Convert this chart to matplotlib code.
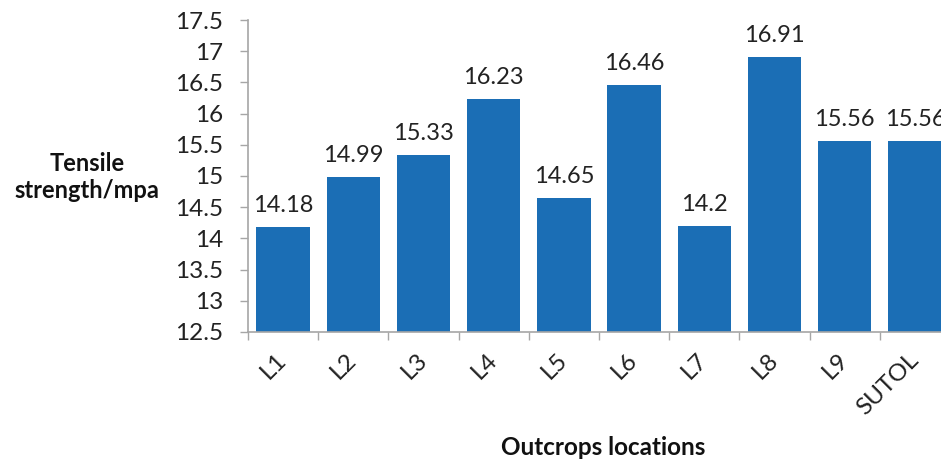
import matplotlib
matplotlib.use("Agg")
import matplotlib.pyplot as plt
import numpy as np

locations = ["L1", "L2", "L3", "L4", "L5", "L6", "L7", "L8", "L9", "SUTOL"]
tensile = [14.18, 14.99, 15.33, 16.23, 14.65, 16.46, 14.2, 16.91, 15.56, 15.56]
value_labels = ["14.18", "14.99", "15.33", "16.23", "14.65", "16.46", "14.2", "16.91", "15.56", "15.56"]
y_ticks = [12.5, 13, 13.5, 14, 14.5, 15, 15.5, 16, 16.5, 17, 17.5]
y_tick_labels = ["12.5", "13", "13.5", "14", "14.5", "15", "15.5", "16", "16.5", "17", "17.5"]

plt.rcParams["font.family"] = ["Lato", "DejaVu Sans"]
W, H = 941, 461
fig = plt.figure(figsize=(W / 100, H / 100), dpi=100)
left, right, top, bottom = 248, 950, 20, 332
ax = fig.add_axes([left / W, 1 - bottom / H, (right - left) / W, (bottom - top) / H])

bar_color = "#1b6eb5"
spine_color = "#a6a6a6"
text_color = "#222222"
x = np.arange(len(locations))
ax.bar(x, [v - 12.5 for v in tensile], bottom=12.5, width=0.76, color=bar_color, zorder=2)

for xi, v, lab in zip(x, tensile, value_labels):
    ax.annotate(lab, (xi, v), xytext=(0, 8), textcoords="offset points",
                ha="center", va="bottom", fontsize=17, color=text_color)

ax.set_xlim(-0.5, len(locations) - 0.5)
ax.set_ylim(12.5, 17.5)
ax.set_yticks(y_ticks)
ax.set_yticklabels(y_tick_labels, fontsize=17.5, color=text_color)
ax.set_xticks(x)
ax.set_xticklabels(locations, rotation=45, ha="right", va="center",
                   rotation_mode="anchor", fontsize=17.5, color=text_color)
ax.set_xticks(np.arange(len(locations) + 1) - 0.5, minor=True)
ax.tick_params(axis="x", which="major", length=0, pad=17.5)
ax.tick_params(axis="x", which="minor", length=5.5, color=spine_color, width=1)
ax.tick_params(axis="y", length=5.8, color=spine_color, width=1, pad=12)

for s in ["top", "right"]:
    ax.spines[s].set_visible(False)
for s in ["left", "bottom"]:
    ax.spines[s].set_color(spine_color)
    ax.spines[s].set_linewidth(1.2)

fig.text(87 / W, 1 - 177 / H, "Tensile\nstrength/mpa", ha="center", va="center",
         fontsize=17, fontweight="bold", color="#111111", linespacing=1.2)
fig.text(603 / W, 1 - 447 / H, "Outcrops locations", ha="center", va="center",
         fontsize=17.5, fontweight="bold", color="#111111")

fig.savefig("out.png", dpi=100)
